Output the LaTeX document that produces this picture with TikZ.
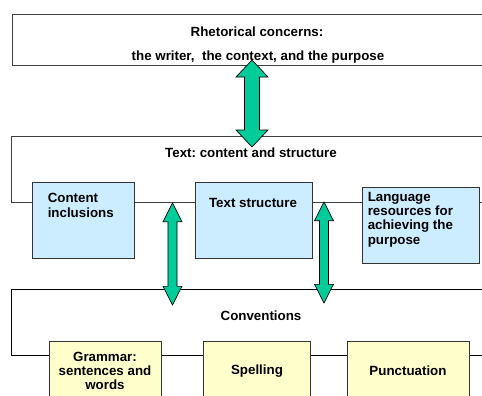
\documentclass[tikz,border=0pt]{standalone}
\usepackage{fontspec}
\setmainfont{Liberation Sans}
\usetikzlibrary{calc}
\definecolor{arrgreen}{HTML}{00CC99}
\definecolor{boxblue}{HTML}{CCECFF}
\definecolor{boxyellow}{HTML}{FFFFCC}
\frenchspacing
% #1 top tip, #2 bottom tip, #3 half head width, #4 half shaft width, #5 head length
\newcommand\dblarr[5]{%
  \draw[arrstyle] let \p1=(#1), \p2=(#2) in
    (\x1,\y1) -- (\x1+#3,\y1-#5) -- (\x1+#4,\y1-#5) -- (\x2+#4,\y2+#5)
    -- (\x2+#3,\y2+#5) -- (\x2,\y2) -- (\x2-#3,\y2+#5) -- (\x2-#4,\y2+#5)
    -- (\x1-#4,\y1-#5) -- (\x1-#3,\y1-#5) -- cycle;}
\begin{document}
\begin{tikzpicture}[x=0.75pt,y=-0.75pt,
  every node/.style={font=\fontsize{10}{10.7}\selectfont\bfseries\frenchspacing, inner sep=0pt},
  bigbox/.style={draw=black!75, line width=0.6pt, fill=white, anchor=north west, minimum width=370pt},
  bluebox/.style={draw=black!80, line width=0.6pt, fill=boxblue, anchor=north west, minimum width=87.75pt, minimum height=57pt},
  yellowbox/.style={draw=black!80, line width=0.6pt, fill=boxyellow, anchor=north west, minimum height=60pt},
  lbl/.style={align=center},
  lbll/.style={align=left, anchor=west},
  arrstyle/.style={fill=arrgreen, draw=black, line width=0.5pt, line join=miter}]
\useasboundingbox (0,0) rectangle (482,396);
\clip (0,0) rectangle (482,396);

% big boxes
\node[bigbox, minimum height=38.25pt] (rhet) at (12,14) {};
\node[bigbox, minimum height=49.5pt] (textb) at (11,136) {};
\node[bigbox, minimum height=49.5pt, draw=black] (conv) at (11,289) {};

% big box labels
\node[lbl] (rhet1) at (257,32) {Rhetorical concerns:};
\node[lbl] (rhet2) at (258,57) {the writer,\ \ the context, and the purpose};
\node[lbl] (textl) at (251,153) {Text: content and structure};
\node[lbl] (convl) at (261,316) {Conventions};

% blue boxes
\node[bluebox, minimum width=76.5pt] (content) at (32,182) {};
\node[bluebox] (struct) at (195,182) {};
\node[bluebox] (lang) at (362,187) {};
\node[lbll] (contentl) at (47.5,205.5) {Content\\inclusions};
\node[lbl] (structl) at (253,203) {Text structure};
\node[lbll] (langl) at (367.5,219.5) {Language\\resources for\\achieving the\\purpose};

% yellow boxes
\node[yellowbox, minimum width=84pt] (gram) at (49,341) {};
\node[yellowbox, minimum width=80.25pt] (spell) at (203,341) {};
\node[yellowbox, minimum width=91.5pt] (punct) at (347,341) {};
\node[lbl] (graml) at (105,371) {Grammar:\\sentences and\\words};
\node[lbl] (spelll) at (257,371) {Spelling};
\node[lbl] (punctl) at (408,371) {Punctuation};

% arrows
\coordinate (a1t) at (252,60);
\coordinate (a1b) at (252,147);
\coordinate (a2t) at (172.5,203);
\coordinate (a2b) at (172.5,305);
\coordinate (a3t) at (324,202);
\coordinate (a3b) at (324,303);
\dblarr{a1t}{a1b}{12pt}{5.6pt}{12.75pt}
\dblarr{a2t}{a2b}{7.1pt}{3.4pt}{14pt}
\dblarr{a3t}{a3b}{7.1pt}{3.4pt}{14pt}
\end{tikzpicture}
\end{document}
